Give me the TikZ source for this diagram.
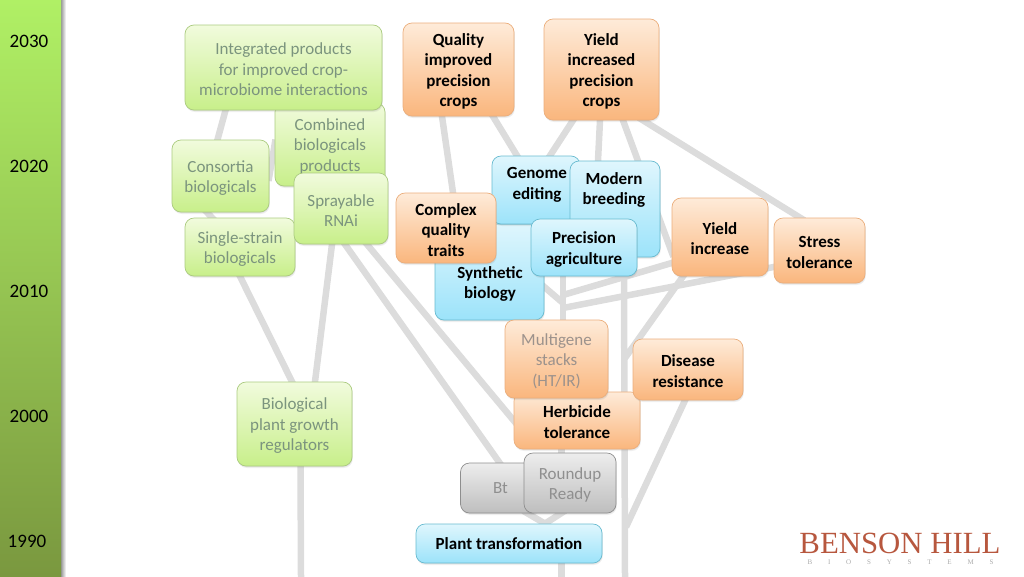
\documentclass[tikz,border=0pt]{standalone}
\usepackage{fontspec}
\setmainfont{Carlito}
\newfontfamily\logofont{Liberation Serif}
\usetikzlibrary{shadows,backgrounds}
\definecolor{wirecol}{HTML}{DCDCDC}
\definecolor{greentop}{HTML}{F1FBDD}
\definecolor{greenbot}{HTML}{C8EF8A}
\definecolor{greenline}{HTML}{ABCB80}
\definecolor{greentext}{HTML}{7B947E}
\definecolor{orangetop}{HTML}{FEEBD9}
\definecolor{orangebot}{HTML}{FAB67D}
\definecolor{orangeline}{HTML}{EBAE7C}
\definecolor{fadetext}{HTML}{9C928C}
\definecolor{bluetop}{HTML}{DFF6FD}
\definecolor{bluebot}{HTML}{9CE3FA}
\definecolor{blueline}{HTML}{68BBD0}
\definecolor{greytop}{HTML}{EDEDED}
\definecolor{greybot}{HTML}{BEBEBE}
\definecolor{greyline}{HTML}{8E8E8E}
\definecolor{greytext}{HTML}{8F8F8F}
\definecolor{bandtop}{HTML}{B0F065}
\definecolor{bandbot}{HTML}{7A983F}
\definecolor{logocol}{HTML}{B7573E}
\definecolor{logogrey}{HTML}{ABABAB}
\newcommand{\boxfont}{\fontsize{17}{20.5}\selectfont}
\newcommand{\lowline}{\rule{0pt}{15.5pt}}
\tikzset{
  dims/.style 2 args={minimum width=#1pt,minimum height=#2pt},
  boxtext/.style={align=center,inner sep=0pt,font=\boxfont},
  box/.style={boxtext,rounded corners=9pt,line width=0.7pt,
    drop shadow={shadow xshift=0.4pt,shadow yshift=-1pt,opacity=0.15},
    drop shadow={shadow xshift=0.8pt,shadow yshift=-2pt,opacity=0.12}},
  greenbox/.style={box,draw=greenline,top color=greentop,bottom color=greenbot,text=greentext},
  orangebox/.style={box,draw=orangeline,top color=orangetop,bottom color=orangebot,font=\boxfont\bfseries},
  bluebox/.style={box,draw=blueline,top color=bluetop,bottom color=bluebot,font=\boxfont\bfseries},
  greybox/.style={box,draw=greyline,top color=greytop,bottom color=greybot,text=greytext},
  wire/.style={draw=wirecol,line width=6.5pt,shorten <=-5pt,shorten >=-5pt},
  year/.style={inner sep=0pt,font=\fontsize{19}{20}\selectfont}
}
\begin{document}
\begin{tikzpicture}[x=1pt,y=-1pt]
  \useasboundingbox (0,0) rectangle (1024,576);
  % time band
  \shade [left color=black!40,right color=white] (61,0) rectangle (66,576);
  \node [dims={61}{576},inner sep=0pt,top color=bandtop,bottom color=bandbot] (band) at (30.5,288) {};
  \node [year] (y2030) at (29,41.5) {2030};
  \node [year] (y2020) at (29,166.5) {2020};
  \node [year] (y2010) at (29,291.5) {2010};
  \node [year] (y2000) at (29,416.5) {2000};
  \node [year] (y1990) at (27,541.5) {1990};
  % biologicals
  \node [greenbox,dims={110}{83}] (combined) at (330,144.5) {\lowline Combined\\biologicals\\products};
  \node [greenbox,dims={197}{85}] (integrated) at (283.5,67.5) {\lowline Integrated products\\for improved crop-\\microbiome interactions};
  \node [greenbox,dims={97}{72}] (consortia) at (220.5,176) {\lowline Consortia\\biologicals};
  \node [greenbox,dims={110}{58}] (single) at (240,247) {\lowline Single-strain\\biologicals};
  \node [greenbox,dims={94}{71}] (spray) at (341,208.5) {\lowline Sprayable\\RNAi};
  \node [greenbox,dims={115}{84}] (regulators) at (294.5,424) {\lowline Biological\\plant growth\\regulators};
  % traits and tools
  \node [orangebox,dims={111}{93}] (quality) at (458.5,69.5) {\lowline Quality\\improved\\precision\\crops};
  \node [orangebox,dims={115}{101}] (yieldcrops) at (601.5,69.5) {\lowline Yield\\increased\\precision\\crops};
  \node [bluebox,dims={109}{96}] (synthetic) at (489.5,272) {};
  \node [boxtext,font=\boxfont\bfseries] (synthetictext) at (490,284) {Synthetic\\biology};
  \node [bluebox,dims={88}{68}] (genome) at (536,190) {};
  \node [boxtext,font=\boxfont\bfseries] (genometext) at (537,185) {Genome\\editing};
  \node [bluebox,dims={90}{96}] (modern) at (615,209) {};
  \node [boxtext,font=\boxfont\bfseries] (moderntext) at (614,190) {Modern\\breeding};
  \node [bluebox,dims={106}{57}] (precision) at (584,247.5) {\lowline Precision\\agriculture};
  \node [orangebox,dims={100}{70}] (complex) at (446,228) {\lowline Complex\\quality\\traits};
  \node [orangebox,dims={96}{78}] (yieldinc) at (720,237) {\lowline Yield\\increase};
  \node [orangebox,dims={91}{65}] (stress) at (819.5,250.5) {\lowline Stress\\tolerance};
  \node [orangebox,dims={126}{57}] (herbicide) at (577,420.5) {\lowline Herbicide\\tolerance};
  \node [orangebox,dims={103}{78},font=\boxfont,text=fadetext] (multigene) at (556.5,359) {\lowline Multigene\\stacks\\(HT/IR)};
  \node [orangebox,dims={110}{61}] (disease) at (688,369.5) {\lowline Disease\\resistance};
  \node [greybox,dims={80}{50}] (bt) at (500.5,488) {Bt};
  \node [greybox,dims={92}{60}] (roundup) at (570,483) {\lowline Roundup\\Ready};
  \node [bluebox,dims={186}{39}] (plant) at (509,543.5) {Plant transformation};
  % free ends and joints of the lines
  \coordinate (regroot) at (301,576);
  \coordinate (plantroot) at (561.5,576);
  \coordinate (precroot) at (625,576);
  \coordinate (joinyield) at (563,295);
  \coordinate (joinstress) at (563,308);
  \coordinate (joinsynth) at (563,303);
  \coordinate (joinup) at (625,358);
  \coordinate (joindown) at (626,527);
  \begin{scope}[on background layer]
    \draw [wire] ([xshift=-58pt]integrated.south) -- ([xshift=-3pt]consortia.north);
    \draw [wire] (combined.west) -- (consortia.east);
    \draw [wire] ([xshift=-13.5pt]consortia.south) -- ([xshift=-28pt]single.north);
    \draw [wire] (single.south) -- ([xshift=-2.5pt]regulators.north);
    \draw [wire] ([xshift=-9pt]spray.south) -- ([xshift=20.5pt]regulators.north);
    \draw [wire] ([xshift=4pt]spray.south) -- ([xshift=-1pt]bt.north);
    \draw [wire] ([xshift=26pt]spray.south) -- (herbicide.west);
    \draw [wire] ([xshift=6pt]regulators.south) -- (regroot);
    \draw [wire] ([xshift=27pt]bt.south) -- ([xshift=36pt]plant.north);
    \draw [wire] ([xshift=-9pt]roundup.south) -- ([xshift=36pt]plant.north);
    \draw [wire] ([xshift=-15.5pt]herbicide.south) -- ([xshift=-8.5pt]roundup.north);
    \draw [wire] ([xshift=52.5pt]plant.south) -- (plantroot);
    \draw [wire] ([xshift=-21pt]precision.south) -- ([xshift=6.5pt]multigene.north);
    \draw [wire] ([xshift=40pt]precision.south) -- (precroot);
    \draw [wire,shorten >=0pt] ([xshift=-37pt]yieldinc.south) -- (joinup);
    \draw [wire,shorten >=0pt] ([xshift=-3pt]disease.south) -- (joindown);
    \draw [wire,shorten >=0pt] ([yshift=-26pt]yieldinc.west) -- (joinyield);
    \draw [wire,shorten >=0pt] ([yshift=-16.5pt]stress.west) -- (joinstress);
    \draw [wire,shorten >=0pt] ([yshift=-15pt]synthetic.east) -- (joinsynth);
    \draw [wire] ([xshift=-28.5pt]yieldcrops.south) -- ([xshift=14pt]genome.north);
    \draw [wire] ([xshift=-1.5pt]yieldcrops.south) -- ([xshift=-17pt]modern.north);
    \draw [wire] ([xshift=21.5pt]yieldcrops.south) -- ([yshift=-15pt]yieldinc.west);
    \draw [wire] ([xshift=41.5pt]yieldcrops.south) -- ([xshift=-19.5pt]stress.north);
    \draw [wire] ([xshift=-16.5pt]quality.south) -- ([xshift=7pt]complex.north);
    \draw [wire] ([xshift=34.5pt]quality.south) -- ([xshift=-19pt]genome.north);
  \end{scope}
  % logo
  \node [inner sep=0pt,text=logocol,font=\logofont\fontsize{30.8}{32}\selectfont] (logo) at (900,543) {BENSON HILL};
  \node [inner sep=0pt,text=logogrey,font=\logofont\fontsize{7}{8}\selectfont] (logosub) at (900.5,562) {\makebox[186pt][s]{B\hfill I\hfill O\hfill S\hfill Y\hfill S\hfill T\hfill E\hfill M\hfill S}};
\end{tikzpicture}
\end{document}
